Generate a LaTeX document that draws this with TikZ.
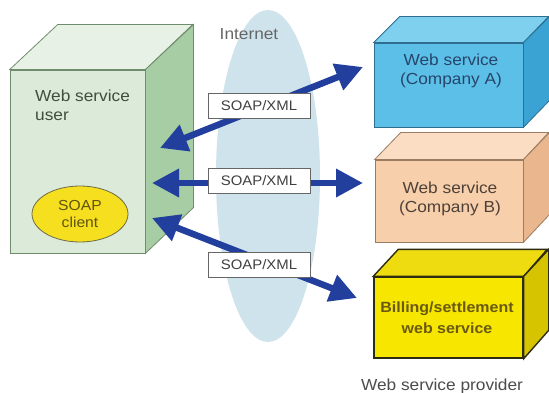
\documentclass[tikz,border=0pt]{standalone}
\usepackage{fontspec}
\setmainfont[FakeStretch=1.08]{Liberation Sans}
\usetikzlibrary{arrows.meta,shapes.geometric}
\definecolor{ufront}{HTML}{DCEBD9}
\definecolor{utop}{HTML}{E8F1E5}
\definecolor{uside}{HTML}{A6CDA3}
\definecolor{uline}{HTML}{6F8C6C}
\definecolor{afront}{HTML}{5BBFE8}
\definecolor{atop}{HTML}{7FCFEE}
\definecolor{aside}{HTML}{3AA3D4}
\definecolor{aline}{HTML}{2E6E90}
\definecolor{bfront}{HTML}{F7CFAB}
\definecolor{btop}{HTML}{FADDC2}
\definecolor{bside}{HTML}{E9B68E}
\definecolor{bline}{HTML}{9C7C60}
\definecolor{cfront}{HTML}{F7E600}
\definecolor{ctop}{HTML}{EEDC10}
\definecolor{cside}{HTML}{D6C400}
\definecolor{cline}{HTML}{2E2C10}
\definecolor{arrowblue}{HTML}{233F9E}
\definecolor{netblue}{HTML}{CFE3EC}
\definecolor{atext}{HTML}{27456A}
\definecolor{btext}{HTML}{4E4038}
\definecolor{ctext}{HTML}{6A5A10}
\definecolor{utext}{HTML}{3F4E3D}
\definecolor{stext}{HTML}{5E5410}
\definecolor{sfill}{HTML}{F5DF1E}
\begin{document}
\begin{tikzpicture}[x=1pt,y=-1pt,
  face/.style={inner sep=0pt, line width=0.8pt},
  txt/.style={font=\fontsize{16}{19}\selectfont, align=center, inner sep=0pt},
  lbl/.style={draw=gray!80!black, fill=white, line width=0.8pt, minimum width=102pt, minimum height=25pt, inner sep=0pt, text=black!75, font=\fontsize{13.8}{16}\selectfont},
  bigarrow/.style={draw=arrowblue, line width=6.5pt, {Triangle[length=27pt,width=27pt]}-{Triangle[length=27pt,width=27pt]}}
]
\useasboundingbox (0,0) rectangle (549,393);
\fill[white] (0,0) rectangle (549,393);

% Internet cloud
\node[ellipse, fill=netblue, minimum width=104pt, minimum height=332pt, inner sep=0pt] (net) at (268,176) {};
\node[txt, text=black!60, anchor=center] (nettxt) at (249,34) {Internet};

% Web service user box
\node[face, draw=uline, fill=ufront, minimum width=135pt, minimum height=183pt] (user) at (77.5,161.5) {};
\draw[face, draw=uline, fill=utop] (user.north west) -- ++(48,-45) -- ++(135,0) -- (user.north east) -- cycle;
\draw[face, draw=uline, fill=uside] (user.north east) -- ++(48,-45) -- ++(0,183) -- (user.south east) -- cycle;
\node[txt, align=left, anchor=north west, text=utext] (usertxt) at (35,90) {Web service\\user};
\node[ellipse, draw=black!50!yellow!70!black, fill=sfill, line width=0.8pt, minimum width=96pt, minimum height=56pt, inner sep=0pt, font=\fontsize{14.5}{17}\selectfont, align=center, text=stext] (client) at (80,214) {SOAP\\client};

% Company A
\node[face, draw=aline, fill=afront, minimum width=149pt, minimum height=84pt] (ca) at (448.5,85) {};
\draw[face, draw=aline, fill=atop] (ca.north west) -- ++(26,-26) -- ++(149,0) -- (ca.north east) -- cycle;
\draw[face, draw=aline, fill=aside] (ca.north east) -- ++(26,-26) -- ++(0,84) -- (ca.south east) -- cycle;
\node[txt, text=atext] (catxt) at (451,71) {Web service\\(Company A)};

% Company B
\node[face, draw=bline, fill=bfront, minimum width=148pt, minimum height=82pt] (cb) at (449,201) {};
\draw[face, draw=bline, fill=btop] (cb.north west) -- ++(26,-27) -- ++(148,0) -- (cb.north east) -- cycle;
\draw[face, draw=bline, fill=bside] (cb.north east) -- ++(26,-27) -- ++(0,82) -- (cb.south east) -- cycle;
\node[txt, text=btext] (cbtxt) at (450,199) {Web service\\(Company B)};

% Billing
\node[face, draw=cline, line width=1.4pt, fill=cfront, minimum width=149pt, minimum height=81pt] (bill) at (448.5,317.5) {};
\draw[face, draw=cline, line width=1.4pt, fill=ctop] (bill.north west) -- ++(25,-27) -- ++(149,0) -- (bill.north east) -- cycle;
\draw[face, draw=cline, line width=1.4pt, fill=cside] (bill.north east) -- ++(25,-27) -- ++(0,81) -- (bill.south east) -- cycle;
\node[txt, font=\bfseries\fontsize{14.8}{21}\selectfont, text=ctext] (billtxt) at (447,317.5) {Billing/settlement\\web service};

\node[txt, text=black!70] (provider) at (442,386) {Web service provider};

% arrow end points
\coordinate (a1s) at (160,148);
\coordinate (a1e) at (363,67);
\coordinate (a2s) at (152,183);
\coordinate (a2e) at (363,183);
\coordinate (a3s) at (152,218);
\coordinate (a3e) at (357,298);

\draw[bigarrow] (a1s) -- (a1e);
\draw[bigarrow] (a2s) -- (a2e);
\draw[bigarrow] (a3s) -- (a3e);

\node[lbl] (l1) at (259,105.5) {SOAP/XML};
\node[lbl] (l2) at (259,180.5) {SOAP/XML};
\node[lbl] (l3) at (259,264.5) {SOAP/XML};
\end{tikzpicture}
\end{document}
